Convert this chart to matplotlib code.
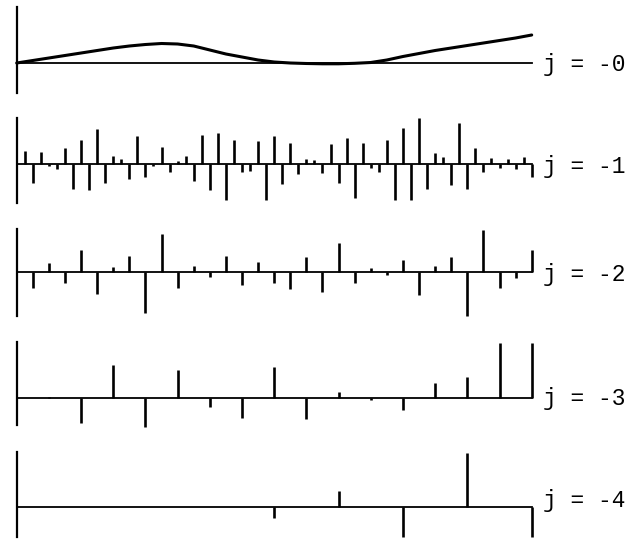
import numpy as np
import matplotlib.pyplot as plt

# smooth part, j = 0 (33 samples over the interval)
approx0 = [0, 2.5, 5, 7.5, 10, 12.5, 15, 17, 18.5, 19.5, 19, 17, 13, 9, 6, 3, 1,
           0, -0.5, -0.8, -0.8, -0.3, 0.5, 3, 6.5, 9.5, 12.5, 15, 17.5, 20, 22.5, 25, 28]

# detail coefficients
detail1 = [13.3, -19.3, 11.7, -2, -5.3, 15.7, -25, 24, -26, 34.7, -19.3, 8.3, 4.7, -15.3, 28, -13.3,
           -1.5, 16.7, -8.3, 2.7, 8.3, -16.7, 29, -26, 31.3, -36, 24, -7.7, -7, 23, -36, 28.3,
           -20, 20.7, -10.3, 4.7, 4, -9.3, 19.7, -18.7, 26.3, -34, 20.7, -4, -7.7, 24, -36, 35.7,
           -36, 45.7, -25.3, 10.7, 7.3, -21, 40.7, -25.3, 15.7, -7.7, 5.7, -4, 4.7, -5, 7, -12.7]
detail2 = [-16.7, 8.3, -11, 21.7, -22.3, 5, 15.7, -41, 37.7, -16.7, 6, -5.7, 16, -13.3, 10, -11,
           -17.7, 15, -20.7, 29, -11, 3.3, -3.3, 11.7, -23.3, 5.7, 15, -44, 41.7, -16.7, -6.7, 21.7]
detail3 = [1, -25.7, 32.7, -29, 27.7, -9, -20.7, 30.3, -21.7, 6, -2.5, -12, 14.3, 20.3, 55, 55]
detail4 = [0.5, 0.5, 0.3, -11, 16.7, -29.3, 54.7, -29.3]

labels = ["j = -0", "j = -1", "j = -2", "j = -3", "j = -4"]

W, H = 641, 539
fig = plt.figure(figsize=(W / 100, H / 100), dpi=100)

# panel boxes in pixels: top, baseline, bottom ; label y
boxes = [(7, 63, 93), (118, 164, 203), (229, 271.7, 316), (342, 397.7, 425), (451.7, 507.3, 536.7)]
label_y = [64, 167, 274, 398, 500]
x0, x1 = 16.7, 531.7

series = [approx0, detail1, detail2, detail3, detail4]

for i, (top, base, bot) in enumerate(boxes):
    ax = fig.add_axes([x0 / W, 1 - bot / H, (x1 - x0) / W, (bot - top) / H])
    ax.set_xlim(0, 1)
    ax.set_ylim(-(bot - base), base - top)
    for s in ["top", "right", "bottom"]:
        ax.spines[s].set_visible(False)
    ax.spines["left"].set_linewidth(1.6)
    ax.set_xticks([])
    ax.set_yticks([])
    ax.patch.set_visible(False)
    ax.axhline(0, color="black", lw=1.3, clip_on=False)

    vals = np.array(series[i])
    if i == 0:
        xs = np.arange(len(vals)) / (len(vals) - 1)
        ax.plot(xs, vals, color="black", lw=2.2, clip_on=False, solid_capstyle="round")
    else:
        n = len(vals)
        xs = np.arange(1, n + 1) / n
        ax.vlines(xs, 0, vals, color="black", lw=1.9, clip_on=False)

    fig.text(543 / W, 1 - label_y[i] / H, labels[i], family="Liberation Mono",
             fontsize=16.5, va="center", ha="left")

fig.savefig("out.png", dpi=100)
